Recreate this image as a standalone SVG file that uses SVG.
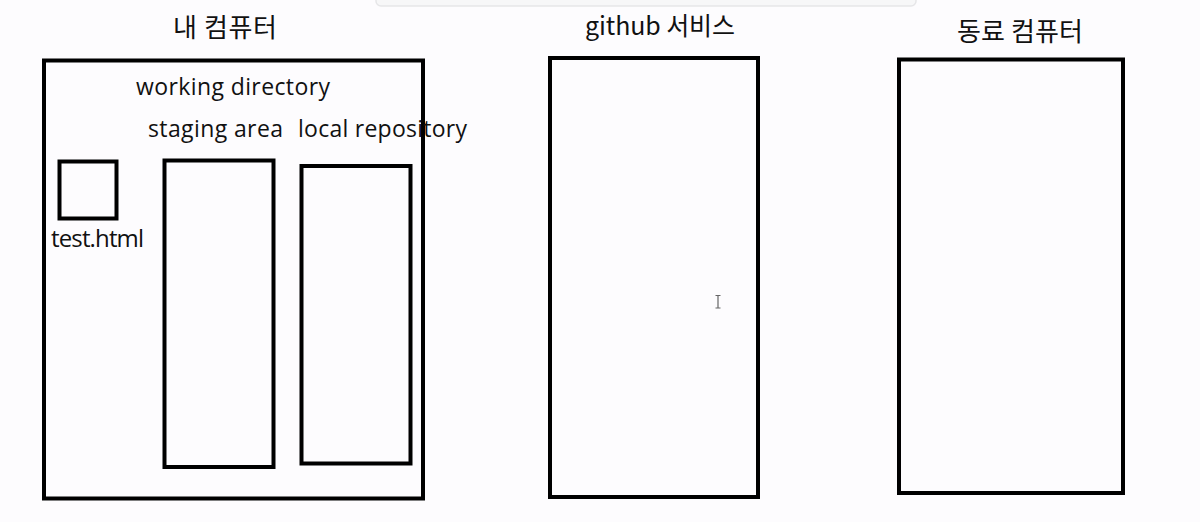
<svg xmlns="http://www.w3.org/2000/svg" width="1200" height="522" viewBox="0 0 1200 522">
<style>
.bx{fill:none;stroke:#000;stroke-width:4}
.t{font-family:"Open Sans","Noto Sans CJK KR",sans-serif;font-size:23px;fill:#111}
.k{font-family:"Noto Sans CJK KR","Open Sans",sans-serif;font-size:26px;fill:#111}
</style>
<rect x="0" y="0" width="1200" height="522" fill="#fdfcfe"/>
<rect x="376" y="-10" width="540" height="16" rx="5" fill="#f7f7f8" stroke="#e6e6e8" stroke-width="1.5"/>
<g id="my-computer">
<text class="k" x="173" y="37" textLength="104">내 컴퓨터</text>
<rect class="bx" x="44" y="60.5" width="379" height="438"/>
<text class="t" x="136" y="95" textLength="194">working directory</text>
</g>
<g id="test-html">
<rect class="bx" x="59.5" y="161.5" width="57" height="57"/>
<text class="t" x="51" y="247" textLength="93" style="font-size:24px">test.html</text>
</g>
<g id="staging-area">
<text class="t" x="148" y="137" textLength="135">staging area</text>
<rect class="bx" x="164.5" y="160.5" width="109" height="306.5"/>
</g>
<g id="local-repository">
<text class="t" x="298" y="137" textLength="169">local repository</text>
<rect class="bx" x="301.5" y="166" width="109" height="297.5"/>
</g>
<g id="github">
<text class="k" x="585" y="35" textLength="150" style="font-size:25px">github 서비스</text>
<rect class="bx" x="550" y="58" width="208" height="439"/>
</g>
<g id="colleague-computer">
<text class="k" x="957" y="41" textLength="126">동료 컴퓨터</text>
<rect class="bx" x="899" y="59.5" width="224" height="433.5"/>
</g>
<g id="connectors"></g>
<path d="M715.5 295.5h5M718 295.5v12.5M715.5 308h5" stroke="#666" stroke-width="1.2" fill="none"/>
</svg>
